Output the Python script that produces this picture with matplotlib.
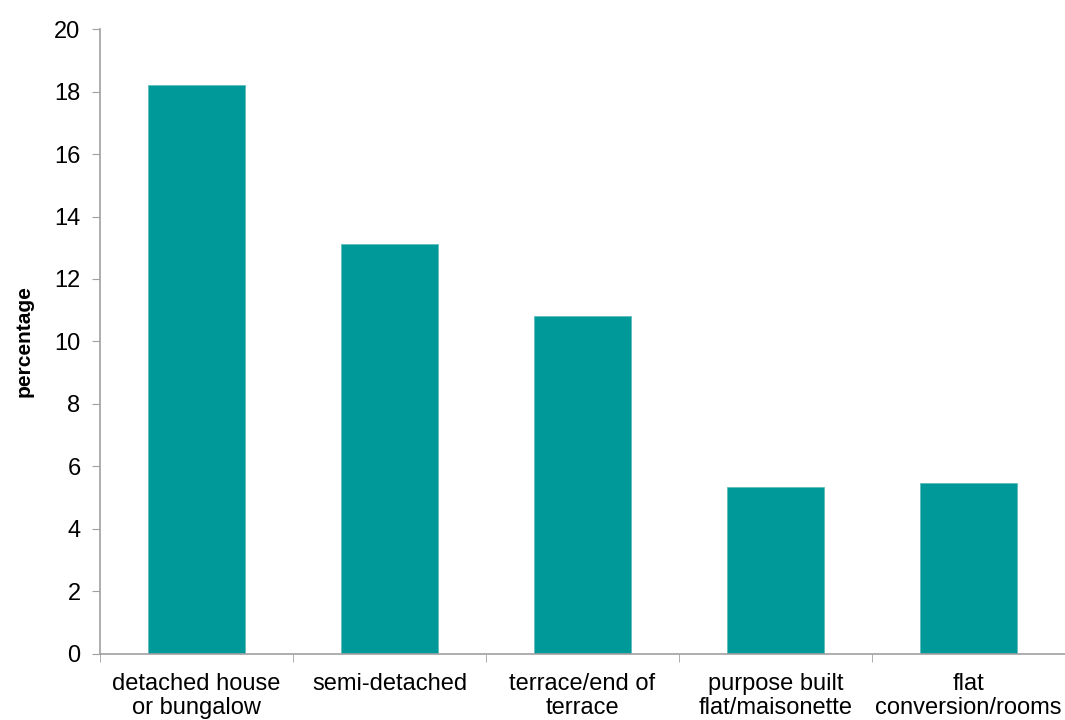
import numpy as np
import matplotlib.pyplot as plt
from matplotlib.ticker import FixedLocator

plt.rcParams['font.family'] = ['Liberation Sans', 'DejaVu Sans']

categories = ['detached house\nor bungalow', 'semi-detached', 'terrace/end of\nterrace',
              'purpose built\nflat/maisonette', 'flat\nconversion/rooms']
values = [18.2, 13.13, 10.8, 5.35, 5.46]

fig = plt.figure(figsize=(10.65, 7.2), dpi=100)
ax = fig.add_axes([0.0939, 0.0917, 0.9061, 0.868])

x = np.arange(len(categories))
ax.bar(x, values, width=0.5, color='#009999', edgecolor='#5fbcbc', linewidth=0.6)

ax.set_xlim(-0.5, len(categories) - 0.5)
ax.set_ylim(0, 20)
ax.set_yticks(np.arange(0, 21, 2))
ax.set_xticks(x)
ax.set_xticklabels(categories, fontsize=17, linespacing=1.08)
ax.xaxis.set_minor_locator(FixedLocator(np.arange(-0.5, len(categories), 1)))
ax.tick_params(axis='x', which='major', length=0, pad=14)
ax.tick_params(axis='x', which='minor', length=6, color='#a0a0a0', direction='out')
ax.tick_params(axis='y', length=6, color='#a0a0a0', labelsize=17, pad=8)

for s in ['top', 'right']:
    ax.spines[s].set_visible(False)
for s in ['left', 'bottom']:
    ax.spines[s].set_color('#a0a0a0')
    ax.spines[s].set_linewidth(1.2)

ax.set_ylabel('percentage', fontsize=15, fontweight='bold', labelpad=15)

fig.savefig('out.png', dpi=100)
